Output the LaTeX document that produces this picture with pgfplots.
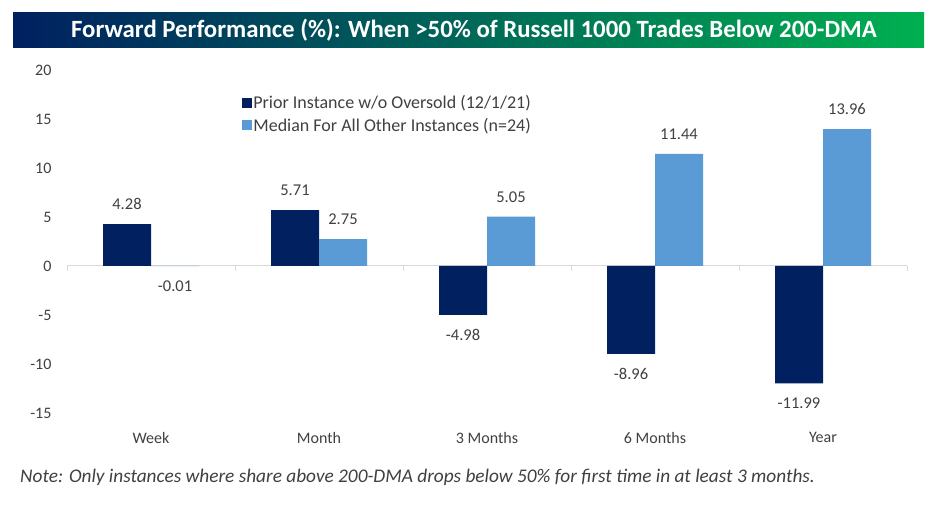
\documentclass[border=0pt]{standalone}
\usepackage{pgfplots}
\pgfplotsset{compat=1.18}
\usepackage{fontspec}
\setmainfont{Carlito}
\definecolor{navy}{HTML}{002060}
\definecolor{lblue}{HTML}{5B9BD5}
\definecolor{tgreen}{HTML}{00B050}
\definecolor{txt}{HTML}{404040}
\definecolor{zline}{HTML}{D9D9D9}
\begin{document}
\begin{tikzpicture}[x=1pt,y=1pt]
\useasboundingbox[fill=white] (0,0) rectangle (936,505);
\shade[left color=navy,right color=tgreen] (13,457) rectangle (924,492);
\node[text=white,font=\fontsize{24.8}{28}\selectfont\bfseries] at (474,474.5) {Forward Performance (\%): When >50\% of Russell 1000 Trades Below 200-DMA};
\node[anchor=west,text=txt,font=\fontsize{19.3}{22}\selectfont\itshape,inner sep=0pt] at (20,28) {Note: Only instances where share above 200-DMA drops below 50\% for first time in at least 3 months.};
\begin{axis}[
  at={(67pt,92pt)}, anchor=south west,
  width=840pt, height=343pt, scale only axis,
  xmin=-0.5, xmax=4.5, ymin=-15, ymax=20,
  ybar=0pt, bar width=48pt,
  axis line style={draw=none},
  major tick length=0pt,
  clip=false,
  xtick={0,1,2,3,4},
  xticklabels={Week,Month,3 Months,6 Months,Year},
  ytick={-15,-10,-5,0,5,10,15,20},
  yticklabels={-15,-10,-5,0,5,10,15,20},
  xticklabel style={font=\fontsize{16}{19}\selectfont,text=txt,yshift=-16pt},
  yticklabel style={font=\fontsize{16}{19}\selectfont,text=txt,xshift=-12pt},
  nodes near coords={\pgfmathprintnumber[fixed,fixed zerofill,precision=2,assume math mode=true]{\pgfplotspointmeta}},
  nodes near coords style={font=\fontsize{16.5}{19}\selectfont,text=txt,inner ysep=14pt},
  legend style={at={(0.205,0.935)},anchor=north west,draw=none,fill=none,
    font=\fontsize{18}{21}\selectfont,text=txt,row sep=6pt,
    nodes={inner sep=1pt}},
  legend cell align=left,
]
\draw[zline,line width=1pt] (axis cs:-0.5,0) -- (axis cs:4.5,0);
\draw[zline,line width=1pt] (axis cs:-0.5,0) -- ++(0pt,-5pt);
\draw[zline,line width=1pt] (axis cs:0.5,0) -- ++(0pt,-5pt);
\draw[zline,line width=1pt] (axis cs:1.5,0) -- ++(0pt,-5pt);
\draw[zline,line width=1pt] (axis cs:2.5,0) -- ++(0pt,-5pt);
\draw[zline,line width=1pt] (axis cs:3.5,0) -- ++(0pt,-5pt);
\draw[zline,line width=1pt] (axis cs:4.5,0) -- ++(0pt,-5pt);
\addplot[fill=navy,draw=none,legend image code/.code={\fill[navy] (0pt,-5pt) rectangle (10pt,5pt);}]
  coordinates {(0,4.28) (1,5.71) (2,-4.98) (3,-8.96) (4,-11.99)};
\addplot[fill=lblue,draw=none,legend image code/.code={\fill[lblue] (0pt,-5pt) rectangle (10pt,5pt);}]
  coordinates {(0,-0.01) (1,2.75) (2,5.05) (3,11.44) (4,13.96)};
\legend{Prior Instance w/o Oversold (12/1/21),Median For All Other Instances (n=24)}
\end{axis}
\end{tikzpicture}
\end{document}
